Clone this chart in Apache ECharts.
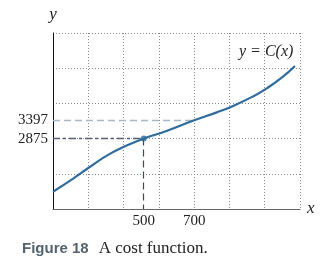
<!DOCTYPE html>
<html><head><meta charset="utf-8">
<script src="https://cdn.jsdelivr.net/npm/echarts@6/dist/echarts.min.js"></script>
<style>html,body{margin:0;padding:0;background:#fff}#c{width:332px;height:263px}</style>
</head><body><div id="c"></div>
<script>
const xValues = [140, 220, 280, 360, 430, 500, 590, 700, 790, 850, 930, 990, 1050, 1100];
const costValues = [1366, 1740, 2040, 2420, 2670, 2875, 3090, 3397, 3620, 3790, 4060, 4310, 4620, 4938];
const xTickLabels = [500, 700];
const yTickLabels = [2875, 3397];
const markedX = 500, markedY = 2875;
const secondX = 700, secondY = 3397;

const serif = 'Liberation Serif';
const chart = echarts.init(document.getElementById('c'), null, {renderer: 'canvas'});
const gridLine = {show: true, lineStyle: {color: '#8a8a8a', type: [1, 2], width: 1}};
chart.setOption({
  animation: false,
  title: {
    text: '{b|Figure 18}  {s|A cost function.}',
    left: 17, top: 235,
    textStyle: {rich: {
      b: {fontFamily: 'Liberation Sans', fontWeight: 'bold', fontSize: 15, color: '#55636f'},
      s: {fontFamily: serif, fontWeight: 'normal', fontSize: 17, color: '#222'}
    }}
  },
  grid: {left: 53, right: 32, top: 33, bottom: 54},
  xAxis: {
    type: 'value', min: 140, max: 1120, interval: 140,
    axisLine: {show: true, lineStyle: {color: '#666', width: 1}},
    axisTick: {show: false},
    axisLabel: {customValues: xTickLabels, formatter: v => String(v), fontFamily: serif, fontSize: 15, color: '#222', margin: 5},
    splitLine: gridLine,
    name: 'x', nameLocation: 'end', nameGap: 7,
    nameTextStyle: {fontFamily: serif, fontStyle: 'italic', fontSize: 17, color: '#222', verticalAlign: 'middle'}
  },
  yAxis: [{
    type: 'value', min: 875, max: 5875,
    axisLine: {show: true, lineStyle: {color: '#111', width: 1}},
    axisTick: {show: false},
    axisLabel: {customValues: yTickLabels, formatter: v => String(v), fontFamily: serif, fontSize: 15, color: '#222', margin: 5},
    splitLine: {show: false},
    name: 'y', nameLocation: 'end', nameGap: 10,
    nameTextStyle: {fontFamily: serif, fontStyle: 'italic', fontSize: 17, color: '#222', align: 'center'}
  }, {
    type: 'value', min: 0, max: 5, interval: 1, position: 'left',
    axisLine: {show: false}, axisTick: {show: false}, axisLabel: {show: false},
    splitLine: gridLine
  }],
  graphic: [{
    type: 'text', left: 239, top: 44,
    style: {text: 'y = C(x)', font: 'italic 16px "Liberation Serif"', fill: '#222'}
  }],
  series: [{
    type: 'line', smooth: 0.5, showSymbol: false,
    data: xValues.map((x, i) => [x, costValues[i]]),
    lineStyle: {color: '#2f6b9c', width: 2.2},
    z: 5,
    markLine: {
      silent: true, symbol: ['none', 'none'], label: {show: false},
      data: [
        [{coord: [140, secondY], lineStyle: {color: '#a9b8c6', type: [7, 4], width: 1.3}}, {coord: [secondX, secondY]}],
        [{coord: [140, markedY], lineStyle: {color: '#4f6172', type: [7, 3, 3, 3], width: 1.3}}, {coord: [markedX, markedY]}],
        [{coord: [markedX, markedY], lineStyle: {color: '#3c4a58', type: [7, 4], width: 1.2}}, {coord: [markedX, 875]}]
      ]
    }
  }, {
    type: 'scatter', data: [[markedX, markedY]], symbolSize: 6,
    itemStyle: {color: '#2f6b9c'}, z: 6
  }]
});
</script></body></html>
